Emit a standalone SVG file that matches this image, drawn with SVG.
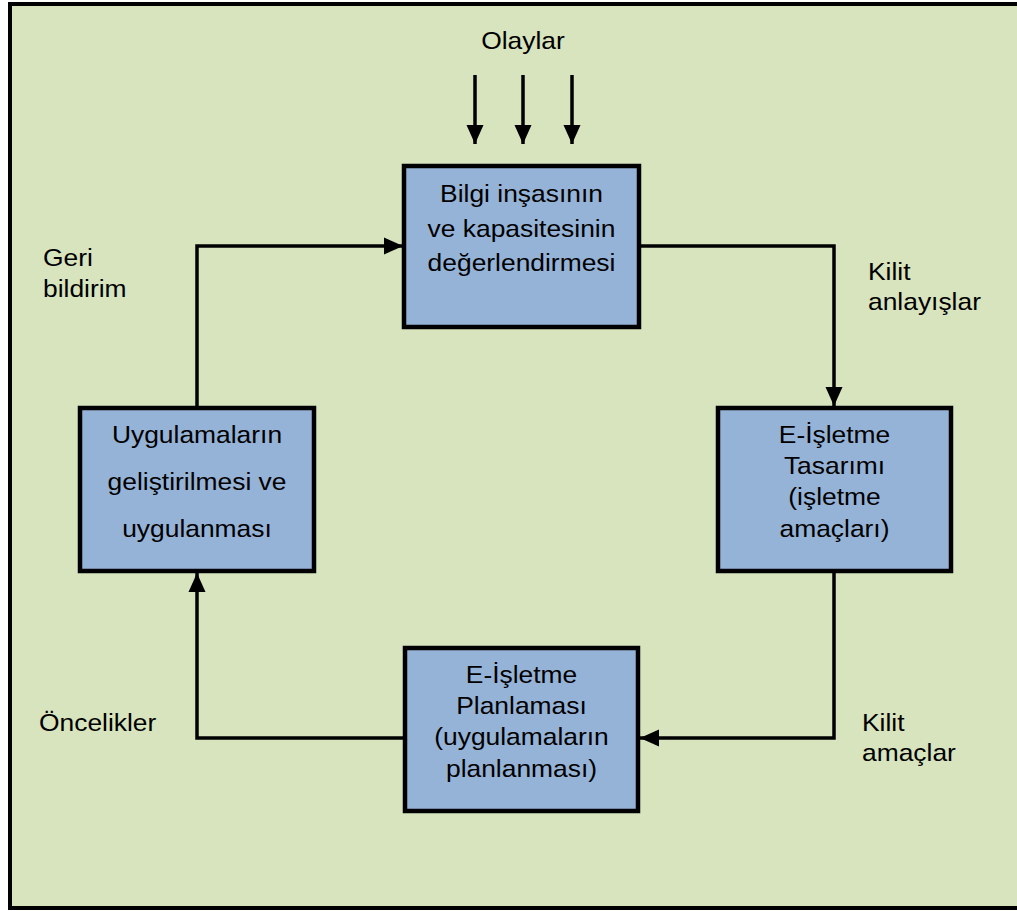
<svg xmlns="http://www.w3.org/2000/svg" width="1017" height="911" viewBox="0 0 1017 911">
  <style>
    .frame { fill: #D7E4BD; stroke: #000; stroke-width: 4; }
    .box { fill: #95B3D7; stroke: #000; stroke-width: 4.5; }
    .wire { fill: none; stroke: #000; stroke-width: 3.5; }
    .t { font-family: "Liberation Sans", Arial, sans-serif; font-size: 24px; fill: #000; }
    .c { text-anchor: middle; }
  </style>
  <defs>
    <marker id="arrow" markerUnits="userSpaceOnUse" markerWidth="20" markerHeight="20" viewBox="0 0 20 20" refX="19" refY="10" orient="auto">
      <path d="M0,1.5 L19,10 L0,18.5 Z" fill="#000"/>
    </marker>
  </defs>

  <!-- background panel -->
  <rect class="frame" x="10" y="4" width="1030" height="904"/>

  <!-- connectors -->
  <g id="connectors">
    <line class="wire" x1="475" y1="75" x2="475" y2="144" marker-end="url(#arrow)"/>
    <line class="wire" x1="523" y1="75" x2="523" y2="144" marker-end="url(#arrow)"/>
    <line class="wire" x1="572" y1="75" x2="572" y2="144" marker-end="url(#arrow)"/>
    <polyline class="wire" points="639,246 834,246 834,406" marker-end="url(#arrow)"/>
    <polyline class="wire" points="834,571 834,738 640,738" marker-end="url(#arrow)"/>
    <polyline class="wire" points="405,738 197,738 197,573" marker-end="url(#arrow)"/>
    <polyline class="wire" points="197,408 197,246 403,246" marker-end="url(#arrow)"/>
  </g>

  <!-- edge labels -->
  <g id="labels">
    <text class="t c" transform="translate(523 49) scale(1.1 1)">Olaylar</text>
    <text class="t" transform="translate(43 266) scale(1.1 1)">Geri</text>
    <text class="t" transform="translate(43 297) scale(1.1 1)">bildirim</text>
    <text class="t" transform="translate(868 280) scale(1.1 1)">Kilit</text>
    <text class="t" transform="translate(868 310) scale(1.1 1)">anlayışlar</text>
    <text class="t" transform="translate(862 731) scale(1.1 1)">Kilit</text>
    <text class="t" transform="translate(862 761) scale(1.1 1)">amaçlar</text>
    <text class="t" transform="translate(39 731) scale(1.1 1)">Öncelikler</text>
  </g>

  <g id="node-assessment">
    <rect class="box" x="404" y="166" width="235" height="161"/>
    <text class="t c" transform="translate(521.5 202) scale(1.1 1)">Bilgi inşasının</text>
    <text class="t c" transform="translate(521.5 237) scale(1.1 1)">ve kapasitesinin</text>
    <text class="t c" transform="translate(521.5 271) scale(1.1 1)">değerlendirmesi</text>
  </g>

  <g id="node-design">
    <rect class="box" x="718" y="408" width="233" height="163"/>
    <text class="t c" transform="translate(834.5 443) scale(1.1 1)">E-İşletme</text>
    <text class="t c" transform="translate(834.5 474) scale(1.1 1)">Tasarımı</text>
    <text class="t c" transform="translate(834.5 505) scale(1.1 1)">(işletme</text>
    <text class="t c" transform="translate(834.5 537) scale(1.1 1)">amaçları)</text>
  </g>

  <g id="node-planning">
    <rect class="box" x="405" y="648" width="233" height="163"/>
    <text class="t c" transform="translate(521.5 683) scale(1.1 1)">E-İşletme</text>
    <text class="t c" transform="translate(521.5 714) scale(1.1 1)">Planlaması</text>
    <text class="t c" transform="translate(521.5 745) scale(1.1 1)">(uygulamaların</text>
    <text class="t c" transform="translate(521.5 777) scale(1.1 1)">planlanması)</text>
  </g>

  <g id="node-development">
    <rect class="box" x="80" y="408" width="234" height="163"/>
    <text class="t c" transform="translate(197 443) scale(1.1 1)">Uygulamaların</text>
    <text class="t c" transform="translate(197 490) scale(1.1 1)">geliştirilmesi ve</text>
    <text class="t c" transform="translate(197 537) scale(1.1 1)">uygulanması</text>
  </g>
</svg>
